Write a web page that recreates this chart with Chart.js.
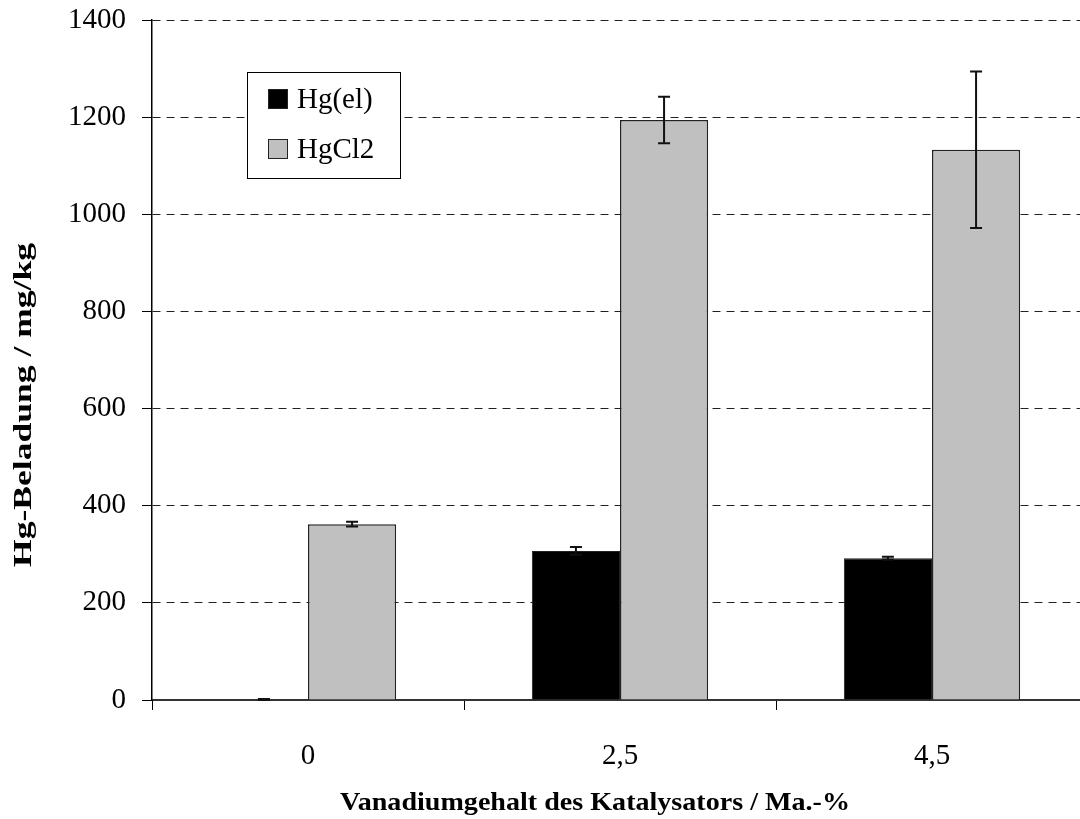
<!DOCTYPE html>
<html>
<head>
<meta charset="utf-8">
<script src="https://cdn.jsdelivr.net/npm/chart.js@4"></script>
<style>
  html, body { margin: 0; padding: 0; background: #fff; overflow: hidden; }
  #wrap { width: 1088px; height: 819px; }
</style>
</head>
<body>
<div id="wrap"><canvas id="myChart" width="1088" height="819"></canvas></div>
<script>
// values
const categories = ['0', '2,5', '4,5'];
const hgEl = [1, 307, 292];
const hgElErr = [1, 8, 3];
const hgCl2 = [362, 1194, 1133];
const hgCl2Err = [5, 48, 161];
const yTicks = [0, 200, 400, 600, 800, 1000, 1200, 1400];

const serif = '"Liberation Serif", "Times New Roman", serif';

// error bars, drawn from the value arrays through the y scale
const errorBars = {
    id: 'errorBars',
    afterDatasetsDraw(chart) {
        const ctx = chart.ctx;
        const y = chart.scales.y;
        chart.data.datasets.forEach((ds, di) => {
            const meta = chart.getDatasetMeta(di);
            meta.data.forEach((bar, i) => {
                const v = ds.data[i], e = ds.errors[i];
                const top = y.getPixelForValue(v + e);
                const bot = y.getPixelForValue(v - e);
                const x = bar.x;
                ctx.save();
                ctx.strokeStyle = '#111';
                ctx.lineWidth = 2;
                ctx.beginPath();
                ctx.moveTo(x, top); ctx.lineTo(x, bot);
                ctx.moveTo(x - 6, top); ctx.lineTo(x + 6, top);
                ctx.moveTo(x - 6, bot); ctx.lineTo(x + 6, bot);
                ctx.stroke();
                ctx.restore();
            });
        });
    }
};

// text stretched along its own direction to a given length
function fitText(ctx, text, len) {
    const w = ctx.measureText(text).width;
    ctx.scale(len / w, 1);
    ctx.fillText(text, 0, 0);
}

// legend box inside the plot + axis titles
const extras = {
    id: 'extras',
    afterDraw(chart) {
        const ctx = chart.ctx;
        ctx.save();
        // legend
        ctx.fillStyle = '#fff';
        ctx.fillRect(247, 72, 153, 106);
        ctx.strokeStyle = '#000';
        ctx.lineWidth = 1;
        ctx.strokeRect(247.5, 72.5, 153, 106);
        ctx.font = '29px ' + serif;
        ctx.textBaseline = 'middle';
        chart.data.datasets.forEach((ds, i) => {
            const cy = 99 + i * 50;
            ctx.fillStyle = ds.backgroundColor;
            ctx.fillRect(268, cy - 10, 20, 20);
            ctx.strokeStyle = '#222';
            ctx.strokeRect(268.5, cy - 9.5, 19, 19);
            ctx.fillStyle = '#000';
            ctx.fillText(ds.label, 297, cy + 1);
        });
        // axis titles
        ctx.font = 'bold 26px ' + serif;
        ctx.textAlign = 'center';
        ctx.save();
        ctx.translate(595, 803);
        fitText(ctx, 'Vanadiumgehalt des Katalysators / Ma.-%', 510);
        ctx.restore();
        ctx.save();
        ctx.translate(24, 405);
        ctx.rotate(-Math.PI / 2);
        fitText(ctx, 'Hg-Beladung / mg/kg', 324);
        ctx.restore();
        ctx.restore();
    }
};

const ctx = document.getElementById('myChart').getContext('2d');
new Chart(ctx, {
    type: 'bar',
    data: {
        labels: categories,
        datasets: [{
            label: 'Hg(el)',
            data: hgEl,
            errors: hgElErr,
            backgroundColor: '#000000',
            borderColor: '#222',
            borderWidth: 1
        }, {
            label: 'HgCl2',
            data: hgCl2,
            errors: hgCl2Err,
            backgroundColor: '#c0c0c0',
            borderColor: '#222',
            borderWidth: 1.5
        }]
    },
    options: {
        responsive: false,
        animation: false,
        events: [],
        layout: { padding: { left: 0, top: 20, right: 0, bottom: 0 } },
        datasets: { bar: { categoryPercentage: 0.565, barPercentage: 1.0 } },
        scales: {
            x: {
                grid: { drawOnChartArea: false, drawTicks: true, tickLength: 10, offset: true, tickColor: '#000' },
                border: { color: '#333', width: 2 },
                ticks: { color: '#000', font: { family: serif, size: 29 }, padding: 29 },
                afterFit(scale) { scale.height = 119; }
            },
            y: {
                min: 0,
                max: 1400,
                afterBuildTicks(scale) { scale.ticks = yTicks.map(v => ({ value: v })); },
                grid: { color: '#222', lineWidth: 1, tickLength: 10, tickColor: '#000', tickBorderDash: [] },
                border: { color: '#000', width: 1.5, dash: [8, 6] },
                ticks: {
                    color: '#000',
                    font: { family: serif, size: 29, lineHeight: 0.2 },
                    padding: 16,
                    callback: v => String(v)
                },
                afterFit(scale) { scale.width = 152; }
            }
        },
        plugins: {
            legend: { display: false },
            tooltip: { enabled: false }
        }
    },
    plugins: [errorBars, extras]
});
</script>
</body>
</html>
